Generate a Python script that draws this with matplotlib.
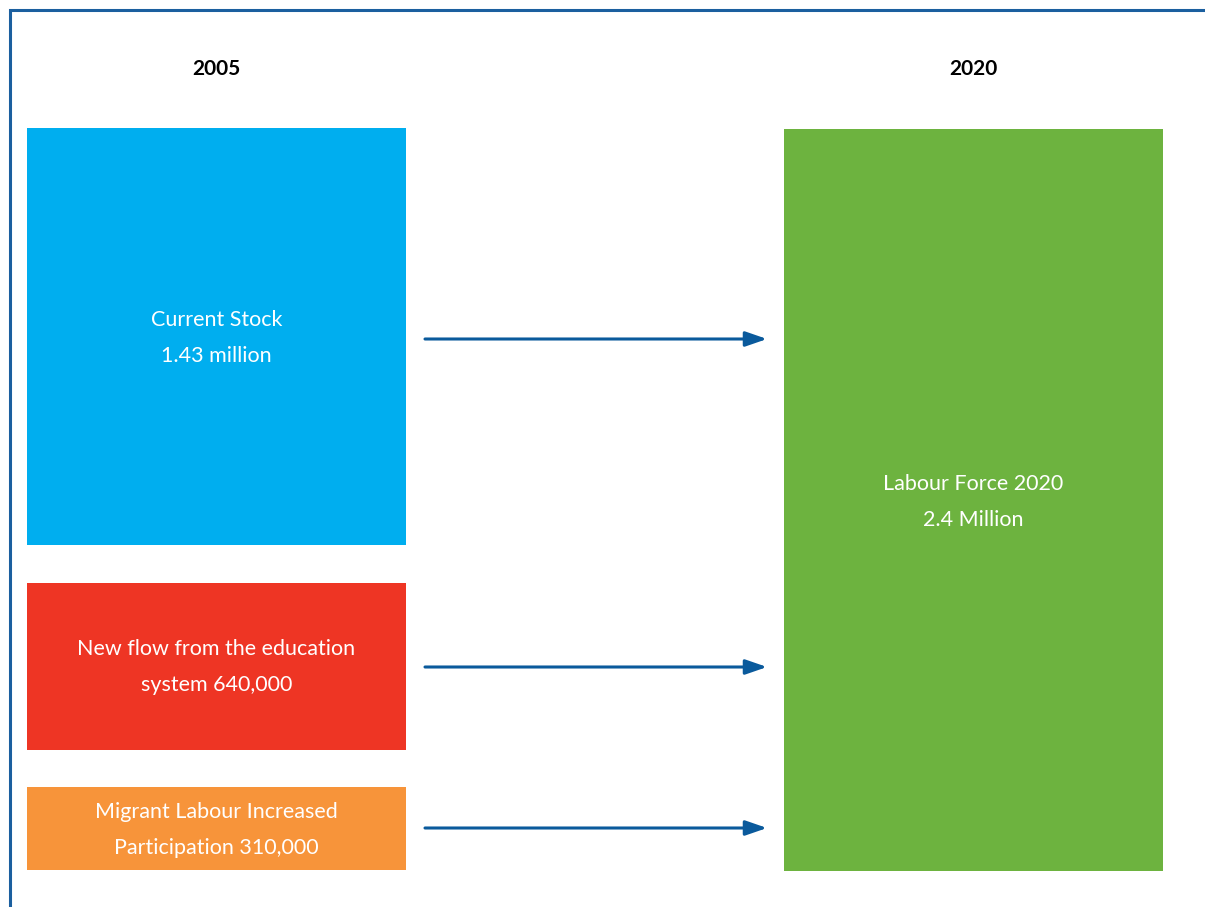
import matplotlib
import matplotlib.pyplot as plt

matplotlib.use("Agg")

# ── Data ──────────────────────────────────────────────────────────────────────
years        = ["2005", "2020"]
source_names = ["Current Stock", "New flow from the education\nsystem",
                "Migrant Labour Increased\nParticipation"]
source_vals  = ["1.43 million", "640,000", "310,000"]
target_name  = "Labour Force 2020"
target_val   = "2.4 Million"

# ── Layout (pixel units, y down) ─────────────────────────────────────────────
W, H        = 1205, 907
left_x      = (27, 406)
right_x     = (784, 1163)
src_spans   = [(128, 545), (583, 750), (787, 870)]
tgt_span    = (129, 871)
src_colors  = ["#00aeef", "#ee3524", "#f7943a"]
tgt_color   = "#6db33f"
arrow_y     = [339, 667, 828]
arrow_x     = (425, 767)
text_y      = [338, 667, 830]
border_col  = "#1b5f9f"
arrow_col   = "#0a5a9c"

plt.rcParams["font.family"] = ["Lato", "DejaVu Sans"]

fig = plt.figure(figsize=(W / 100, H / 100), dpi=100)
ax = fig.add_axes([0, 0, 1, 1])
ax.set_xlim(0, W)
ax.set_ylim(H, 0)
ax.axis("off")

# frame (top + left)
ax.plot([10, 10, W], [H, 10, 10], color=border_col, lw=2.2, solid_joinstyle="miter")

# headers
lcx = sum(left_x) / 2
rcx = sum(right_x) / 2
for cx, yr in zip([lcx, rcx], years):
    ax.text(cx, 69, yr, ha="center", va="center", fontsize=15, fontweight="bold")

# source boxes
for (y0, y1), col, name, val, ty in zip(src_spans, src_colors, source_names,
                                          source_vals, text_y):
    ax.bar(lcx, y1 - y0, bottom=y0, width=left_x[1] - left_x[0], color=col, lw=0)
    if "\n" in name:
        label = f"{name} {val}"
    else:
        label = f"{name}\n{val}"
    ax.text(lcx, ty, label, ha="center", va="center", color="white",
            fontsize=15.5, linespacing=1.95)

# target box
ax.bar(rcx, tgt_span[1] - tgt_span[0], bottom=tgt_span[0],
       width=right_x[1] - right_x[0], color=tgt_color, lw=0)
ax.text(rcx, 502, f"{target_name}\n{target_val}", ha="center", va="center",
        color="white", fontsize=15.5, linespacing=1.95)

# arrows
for y in arrow_y:
    ax.annotate("", xy=(arrow_x[1], y), xytext=(arrow_x[0], y),
                arrowprops=dict(arrowstyle="-|>,head_length=1.3,head_width=0.45",
                                color=arrow_col, lw=2.2, shrinkA=0, shrinkB=0))

fig.savefig("out.png", dpi=100)
